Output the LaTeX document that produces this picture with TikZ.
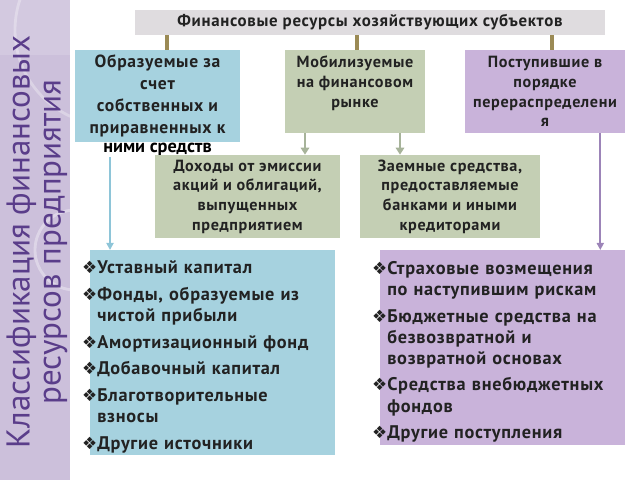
\documentclass[tikz,border=0pt]{standalone}
\usepackage{fontspec}
\setmainfont{PT Sans}
\newfontfamily\boxfont{PT Sans}[LetterSpace=4]
\newfontfamily\bulfont{DejaVu Sans}
\usetikzlibrary{arrows.meta}

\definecolor{stripcol}{HTML}{CCC0DB}
\definecolor{titlecol}{HTML}{5A3D8A}
\definecolor{topcol}{HTML}{DFDCDF}
\definecolor{boxblue}{HTML}{A6D2DF}
\definecolor{boxgreen}{HTML}{C4CFB4}
\definecolor{boxpurple}{HTML}{C9B3DA}
\definecolor{linebrown}{HTML}{9B8A55}
\definecolor{linegreen}{HTML}{A7B39A}
\definecolor{lineblue}{HTML}{8EC5D8}
\definecolor{linepurple}{HTML}{9C84B8}
\definecolor{textcol}{HTML}{222222}

\newcommand\itm{\par\noindent\llap{\bulfont\fontsize{12}{12}\selectfont ❖}}

\begin{document}
\begin{tikzpicture}[x=0.025cm,y=-0.025cm,
    box/.style={inner sep=0pt, align=center, text=textcol, font=\boxfont\bfseries\fontsize{11.5}{14}\selectfont},
    listbox/.style={inner xsep=0.175cm, inner ysep=0pt, align=left, text=textcol, anchor=north west,
        font=\boxfont\bfseries\fontsize{13}{15}\selectfont},
    topline/.style={linebrown, line width=2.8pt},
    greenarrow/.style={linegreen, line width=2pt, -{Triangle[length=5pt,width=6pt]}},
    thinarrow/.style={line width=1.4pt, -{Triangle[length=5pt,width=5pt]}}]
    \useasboundingbox (0,0) rectangle (640,480);

    \fill[stripcol] (0,0) rectangle (70,480);
    \begin{scope}
        \clip (0,0) rectangle (70,480);
        \fill[white, opacity=0.15] (0,0) rectangle (70,55);
        \draw[white, opacity=0.35, line width=2pt] (75,250) circle (40);
        \draw[white, opacity=0.3, line width=2pt] (110,30) circle (95);
    \end{scope}
    \node[rotate=90, align=center, text=titlecol, font=\fontsize{23.5}{22}\selectfont] (title) at (37,242)
        {Классификация финансовых\\ ресурсов предприятия};

    \node[box, fill=topcol, minimum width=11.75cm, minimum height=0.625cm, font=\boxfont\bfseries\fontsize{12}{14}\selectfont] (topres) at (370,22.5)
        {Финансовые ресурсы хозяйствующих субъектов};

    \node[box, fill=boxblue, minimum width=4.125cm, minimum height=2.3cm, font=\boxfont\bfseries\fontsize{12.5}{15.5}\selectfont] (own) at (157.5,96)
        {Образуемые за\\ счет\\ собственных и\\ приравненных к};
    \node[text=black, inner sep=0pt, font=\bfseries\fontsize{13}{13}\selectfont] (ownrest) at (157.5,150) {ними средств};
    \node[box, fill=boxgreen, minimum width=3.5cm, minimum height=2.075cm] (market) at (355,91.5)
        {Мобилизуемые\\ на финансовом\\ рынке\\ \mbox{}};
    \node[box, fill=boxpurple, minimum width=4cm, minimum height=2.075cm] (redist) at (545,91.5)
        {Поступившие в\\ порядке\\ перераспределени\\ я};

    \node[box, fill=boxgreen, minimum width=4.625cm, minimum height=2.075cm] (emission) at (247.5,196.5)
        {Доходы от эмиссии\\ акций и облигаций,\\ выпущенных\\ предприятием};
    \node[box, fill=boxgreen, minimum width=4.5cm, minimum height=2.075cm] (loans) at (450,196.5)
        {Заемные средства,\\ предоставляемые\\ банками и иными\\ кредиторами};

    \node[listbox, fill=boxblue, minimum width=6.125cm, minimum height=5.125cm, text width=5.775cm] (ownlist) at (90,250)
        {\itm Уставный капитал\par\vspace{4pt}
         \itm Фонды, образуемые из\\ чистой прибыли\par\vspace{4pt}
         \itm Амортизационный фонд\par\vspace{4pt}
         \itm Добавочный капитал\par\vspace{4pt}
         \itm Благотворительные\\ взносы\par\vspace{4pt}
         \itm Другие источники};
    \node[listbox, fill=boxpurple, minimum width=6.125cm, minimum height=4.875cm, text width=5.775cm] (redistlist) at (380,250)
        {\itm Страховые возмещения\\ по наступившим рискам\par\vspace{4pt}
         \itm Бюджетные средства на\\ безвозвратной и\\ возвратной основах\par\vspace{4pt}
         \itm Средства внебюджетных\\ фондов\par\vspace{4pt}
         \itm Другие поступления};

    \draw[topline] ([xshift=0.2375cm]own.north) -- ([xshift=0.2375cm]own.north |- topres.south);
    \draw[topline] ([xshift=0.05cm]market.north) -- ([xshift=0.05cm]market.north |- topres.south);
    \draw[topline] ([xshift=0.175cm]redist.north) -- ([xshift=0.175cm]redist.north |- topres.south);

    \coordinate (toemission) at ([xshift=-1.25cm]market.south);
    \coordinate (toloans) at ([xshift=1.125cm]market.south);
    \draw[greenarrow] (toemission) -- (toemission |- emission.north);
    \draw[greenarrow] (toloans) -- (toloans |- loans.north);

    \coordinate (bluetop) at ([xshift=0.5cm]ownlist.north west);
    \draw[thinarrow, lineblue] (bluetop |- ownrest.south) -- (bluetop);
    \coordinate (purpletop) at ([xshift=-0.625cm]redist.south east);
    \draw[thinarrow, linepurple] (purpletop) -- (purpletop |- redistlist.north);
\end{tikzpicture}
\end{document}
